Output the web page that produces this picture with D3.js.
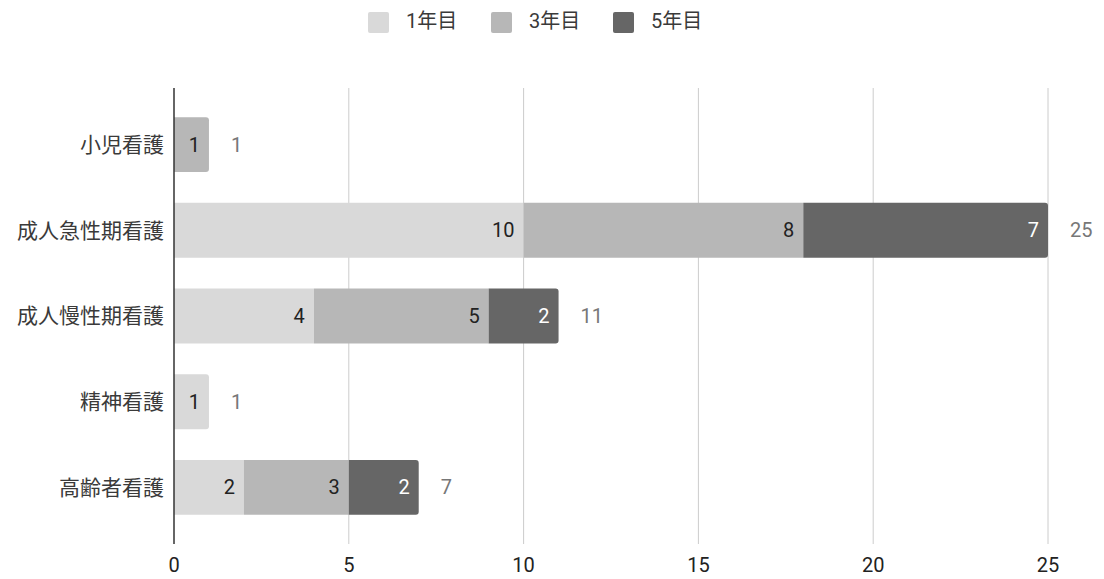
<!DOCTYPE html>
<html>
<head>
<meta charset="utf-8">
<script src="https://cdn.jsdelivr.net/npm/d3@7"></script>
<style>
  html, body { margin: 0; padding: 0; background: #fff; }
  svg { display: block; font-family: Roboto, "Noto Sans CJK JP", sans-serif; }
</style>
</head>
<body>
<svg id="chart" width="1104" height="579"></svg>
<script>
// Training areas (rows) and counts per year group
const categories = ["小児看護", "成人急性期看護", "成人慢性期看護", "精神看護", "高齢者看護"];
const seriesNames = ["1年目", "3年目", "5年目"];
const year1 = [0, 10, 4, 1, 2];
const year3 = [1, 8, 5, 0, 3];
const year5 = [0, 7, 2, 0, 2];
const xTicks = [0, 5, 10, 15, 20, 25];
const colors = ["#d9d9d9", "#b7b7b7", "#666666"];
const labelColors = ["#222222", "#222222", "#ffffff"];

const rows = categories.map((c, i) => ({ cat: c, "1年目": year1[i], "3年目": year3[i], "5年目": year5[i] }));
const stacked = d3.stack().keys(seriesNames)(rows);

const svg = d3.select("#chart");
const plotLeft = 174, plotRight = 1048, plotTop = 88, plotBottom = 544;

const x = d3.scaleLinear().domain([0, 25]).range([plotLeft, plotRight]);
const y = d3.scaleBand().domain(categories).range([plotTop, plotBottom]).paddingInner(0.36).paddingOuter(0.34);

// vertical grid lines
svg.append("g").selectAll("line").data(xTicks.filter(t => t > 0)).join("line")
  .attr("x1", d => x(d)).attr("x2", d => x(d))
  .attr("y1", plotTop).attr("y2", plotBottom)
  .attr("stroke", "#cccccc").attr("stroke-width", 1);

// x tick labels
svg.append("g").selectAll("text").data(xTicks).join("text")
  .attr("x", d => x(d)).attr("y", 565).attr("dy", "0.35em")
  .attr("text-anchor", "middle")
  .attr("font-size", 20).attr("fill", "#222")
  .text(d => d);

// category labels
svg.append("g").selectAll("text").data(categories).join("text")
  .attr("x", plotLeft - 10).attr("y", d => y(d) + y.bandwidth() / 2)
  .attr("dy", "0.35em")
  .attr("text-anchor", "end")
  .attr("font-size", 21).attr("fill", "#3a3a3a")
  .text(d => d);

// last non-zero series per row gets a rounded right end
const lastKey = rows.map(r => { let k = null; seriesNames.forEach(s => { if (r[s] > 0) k = s; }); return k; });

function segPath(x0, x1, y0, h, rounded) {
  const r = rounded ? Math.min(3, (x1 - x0) / 2) : 0;
  return `M${x0},${y0}H${x1 - r}` +
    (r ? `Q${x1},${y0} ${x1},${y0 + r}` : "") +
    `V${y0 + h - r}` +
    (r ? `Q${x1},${y0 + h} ${x1 - r},${y0 + h}` : "") +
    `H${x0}Z`;
}

stacked.forEach((layer, si) => {
  const g = svg.append("g");
  layer.forEach((d, i) => {
    if (d[1] - d[0] <= 0) return;
    const x0 = x(d[0]), x1 = x(d[1]);
    const y0 = y(categories[i]), h = y.bandwidth();
    g.append("path")
      .attr("d", segPath(x0, x1, y0, h, lastKey[i] === layer.key))
      .attr("fill", colors[si]);
    g.append("text")
      .attr("x", x1 - 9).attr("y", y0 + h / 2).attr("dy", "0.35em")
      .attr("text-anchor", "end")
      .attr("font-size", 20).attr("fill", labelColors[si])
      .text(d[1] - d[0]);
  });
});

// totals to the right of each bar
svg.append("g").selectAll("text").data(rows).join("text")
  .attr("x", d => x(d["1年目"] + d["3年目"] + d["5年目"]) + 22)
  .attr("y", d => y(d.cat) + y.bandwidth() / 2).attr("dy", "0.35em")
  .attr("font-size", 20).attr("fill", "#777777")
  .text(d => d["1年目"] + d["3年目"] + d["5年目"]);

// baseline axis
svg.append("line")
  .attr("x1", plotLeft).attr("x2", plotLeft).attr("y1", plotTop).attr("y2", plotBottom)
  .attr("stroke", "#333").attr("stroke-width", 1.5);

// legend
const legendX = [368, 491, 613];
const lg = svg.append("g");
seriesNames.forEach((s, i) => {
  lg.append("rect").attr("x", legendX[i]).attr("y", 12).attr("width", 21).attr("height", 21)
    .attr("rx", 2).attr("fill", colors[i]);
  lg.append("text").attr("x", legendX[i] + 38).attr("y", 21).attr("dy", "0.35em")
    .attr("font-size", 20).attr("fill", "#3a3a3a").text(s);
});
</script>
</body>
</html>
